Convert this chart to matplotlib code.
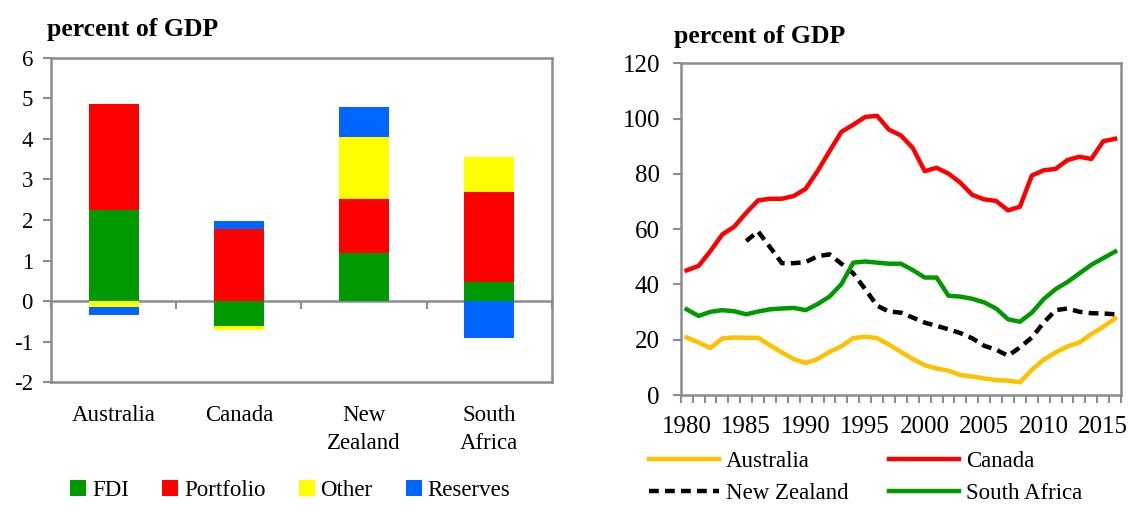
import numpy as np
import matplotlib
matplotlib.use('Agg')
import matplotlib.pyplot as plt
from matplotlib.patches import Patch

plt.rcParams['font.family'] = ['Liberation Serif', 'DejaVu Serif']
plt.rcParams['axes.unicode_minus'] = False

# left panel: flows by component, percent of GDP
countries = ['Australia', 'Canada', 'New\nZealand', 'South\nAfrica']
fdi = [2.26, -0.60, 1.19, 0.47]
portfolio = [2.59, 1.77, 1.32, 2.22]
other = [-0.14, -0.11, 1.53, 0.87]
reserves = [-0.19, 0.21, 0.74, -0.90]
components = ['FDI', 'Portfolio', 'Other', 'Reserves']

# right panel: time series, percent of GDP
years = list(range(1980, 2017))
australia = [20.8, 19.0, 17.0, 20.5, 20.8, 20.7, 20.7, 18.0, 15.4, 13.0,
             11.6, 13.0, 15.6, 17.6, 20.6, 21.1, 20.6, 18.2, 15.6, 13.0,
             10.8, 9.6, 8.8, 7.2, 6.7, 6.0, 5.4, 5.2, 4.6, 9.1,
             12.8, 15.4, 17.6, 19.0, 22.0, 24.7, 27.7]
canada = [45.1, 46.7, 52.1, 58.1, 60.9, 65.9, 70.4, 71.0, 71.0, 72.0,
          74.6, 81.0, 88.2, 95.2, 97.8, 100.6, 101.0, 96.0, 93.9, 89.4,
          81.0, 82.2, 80.1, 76.8, 72.4, 70.8, 70.2, 66.8, 68.1, 79.4,
          81.3, 81.8, 85.0, 86.2, 85.4, 91.8, 92.7]
new_zealand = [np.nan, np.nan, np.nan, np.nan, np.nan, 55.7, 59.2, 53.5, 47.7, 47.7,
               48.1, 50.2, 50.9, 47.5, 44.0, 38.3, 32.3, 30.2, 29.8, 28.0,
               26.2, 25.0, 23.8, 22.4, 20.5, 17.8, 16.4, 14.2, 17.2, 20.8,
               26.2, 30.7, 31.3, 30.1, 29.6, 29.5, 29.2]
south_africa = [31.0, 28.6, 30.1, 30.7, 30.3, 29.2, 30.2, 31.0, 31.3, 31.5,
                30.7, 32.9, 35.6, 40.1, 47.9, 48.3, 47.9, 47.5, 47.5, 45.2,
                42.5, 42.5, 35.9, 35.6, 34.8, 33.5, 31.3, 27.4, 26.5, 29.8,
                34.7, 38.3, 40.9, 44.0, 47.1, 49.5, 51.9]

bar_colors = ['#009900', '#FF0000', '#FFFF00', '#0066FF']
grey = '#8C8C8C'
fs = 16.5
fs_num = 18
fs_title = 18.5

fig = plt.figure(figsize=(11.3, 5.07), dpi=100)

# ---------------- left: stacked bars ----------------
ax = fig.add_axes([0.0451, 0.2456, 0.4434, 0.6406])
x = np.arange(len(countries))
pos_base = np.zeros(len(countries))
neg_base = np.zeros(len(countries))
for vals, col in zip([fdi, portfolio, other, reserves], bar_colors):
    vals = np.array(vals)
    bottoms = np.where(vals >= 0, pos_base, neg_base)
    ax.bar(x, vals, 0.4, bottom=bottoms, color=col, zorder=2)
    pos_base = pos_base + np.where(vals >= 0, vals, 0)
    neg_base = neg_base + np.where(vals < 0, vals, 0)

ax.set_xlim(-0.5, len(countries) - 0.5)
ax.set_ylim(-2, 6)
ax.set_yticks(range(-2, 7))
ax.set_xticks(x)
ax.set_xticklabels(countries, linespacing=1.45)
ax.tick_params(axis='x', length=0, pad=16, labelsize=fs)
ax.tick_params(axis='y', direction='out', length=6, width=1.5, color=grey,
               labelsize=fs_num - 1.5, pad=7)
for sp in ax.spines.values():
    sp.set_color(grey)
    sp.set_linewidth(1.8)

# category axis crossing at zero
zero_ax = ax.secondary_xaxis(0.25)
zero_ax.set_xticks(np.arange(-0.5, len(countries), 1.0))
zero_ax.set_xticklabels([])
zero_ax.spines['bottom'].set_color(grey)
zero_ax.spines['bottom'].set_linewidth(1.8)
zero_ax.tick_params(direction='out', length=6, width=1.5, color=grey)

ax.text(-0.008, 1.05, 'percent of GDP', transform=ax.transAxes,
        fontsize=fs_title, fontweight='bold', ha='left', va='bottom')

handles = [Patch(facecolor=c, edgecolor='none') for c in bar_colors]
fig.legend(handles, components, loc='center', bbox_to_anchor=(0.257, 0.032),
           ncol=4, frameon=False, fontsize=fs, handlelength=0.7,
           handleheight=0.7, handletextpad=0.25, columnspacing=1.45)

# ---------------- right: lines ----------------
ax2 = fig.add_axes([0.6024, 0.2209, 0.3897, 0.6542])
ax2.plot(years, australia, color='#FFC000', lw=3.2, label='Australia')
ax2.plot(years, canada, color='#FF0000', lw=3.2, label='Canada')
ax2.plot(years, new_zealand, color='black', lw=3.2, ls=(0, (2.2, 1.4)),
         label='New Zealand')
ax2.plot(years, south_africa, color='#009900', lw=3.2, label='South Africa')

ax2.set_xlim(years[0] - 0.5, years[-1] + 0.5)
ax2.set_ylim(0, 120)
ax2.set_yticks(range(0, 121, 20))
ax2.set_xticks(range(1980, 2016, 5))
ax2.set_xticks(np.arange(years[0] - 0.5, years[-1] + 1, 1.0), minor=True)
ax2.tick_params(axis='x', which='major', length=0, pad=15, labelsize=fs_num)
ax2.tick_params(axis='x', which='minor', direction='out', length=6,
                width=1.5, color=grey)
ax2.tick_params(axis='y', direction='out', length=6, width=1.5, color=grey,
                labelsize=fs_num, pad=9)
for sp in ax2.spines.values():
    sp.set_color(grey)
    sp.set_linewidth(1.8)

ax2.text(-0.015, 1.045, 'percent of GDP', transform=ax2.transAxes,
         fontsize=fs_title, fontweight='bold', ha='left', va='bottom')

h, l = ax2.get_legend_handles_labels()
order = [0, 2, 1, 3]
fig.legend([h[i] for i in order], [l[i] for i in order], loc='center',
           bbox_to_anchor=(0.766, 0.058), ncol=2, frameon=False, fontsize=fs,
           handlelength=3.05, handletextpad=0.3, columnspacing=1.8,
           labelspacing=0.45)

fig.savefig('out.png', dpi=100)
